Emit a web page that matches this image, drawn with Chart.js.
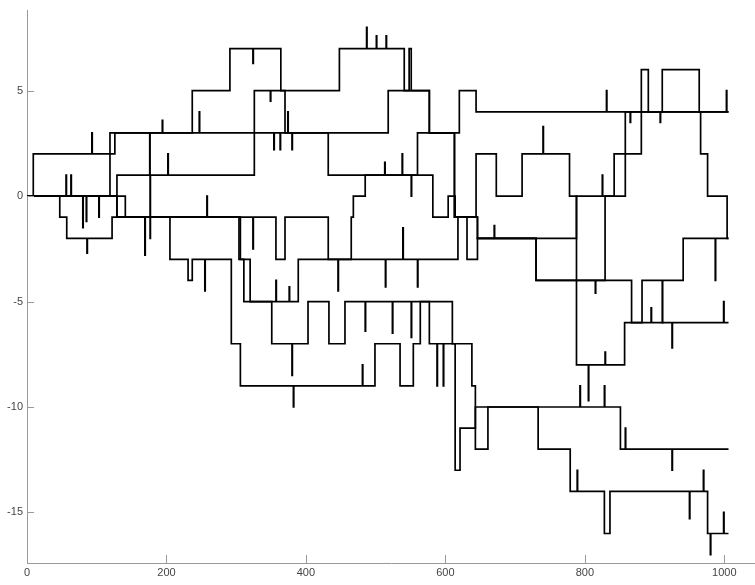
<!DOCTYPE html>
<html>
<head>
<meta charset="utf-8">
<script src="https://cdn.jsdelivr.net/npm/chart.js@4"></script>
<style>
  html, body { margin: 0; padding: 0; background: #fff; overflow: hidden; }
  #wrap { width: 755px; height: 585px; }
</style>
</head>
<body>
<div id="wrap"><canvas id="walkChart" width="755" height="585"></canvas></div>
<script>
// tick labels
const xTicks = [0, 200, 400, 600, 800, 1000];
const yTicks = [-15, -10, -5, 0, 5];

// each walk: [step, level] at the points where the level changes
const walkA = [[0,0],[9,2],[93,3],[93.6,2],[126,3],[194,3.6],[194.6,3],[237,5],[291,7],[324,6.3],[324.6,7],[364,5],[370,3],[374,4],[374.6,3],[380,2.2],[380.6,3],[518,5],[577,3],[620,5],[644,4],[831,5],[831.6,4],[865,3.5],[865.6,4],[911,6],[964,4],[966,2],[976,0],[1004,-2],[1006,-2]];
const walkB = [[0,0],[56,1],[56.6,0],[63,1],[63.6,0],[80,-1.5],[80.6,0],[129,1],[176,3],[176.5,-2],[177,1],[202,2],[202.6,1],[326,5],[349,4.5],[349.6,5],[448,7],[487,8],[487.6,7],[501,7.6],[501.6,7],[515,7.6],[515.6,7],[541,5],[548,7],[551,5],[577,3],[613,-1],[646,-2],[670,-1.4],[670.6,-2],[788,0],[825,1],[825.6,0],[842,2],[881,6],[891,4],[908,3.5],[908.6,4],[1003,5],[1003.6,4],[1006,4]];
const walkC = [[0,0],[47,-1],[57,-2],[86,-2.7],[86.6,-2],[122,-1],[169,-2.8],[169.6,-1],[258,0],[258.6,-1],[324,-2.5],[324.6,-1],[357,-3],[370,-1],[432,-3],[446,-4.5],[446.6,-3],[514,-4.3],[514.6,-3],[539,-1.5],[539.6,-3],[560,-4.3],[560.6,-3],[618,-1],[631,-3],[646,-2],[730,-4],[815,-4.6],[815.6,-4],[867,-6],[882,-4],[911,-6],[911.6,-4],[941,-2],[987,-4],[987.6,-2],[1006,-2]];
const walkD = [[0,0],[119,3],[247,4],[247.6,3],[354,2.2],[354.6,3],[363,2.2],[363.6,3],[432,1],[513,1.6],[513.6,1],[538,2],[538.6,1],[551,0],[551.6,1],[582,-1],[604,0],[614,-1],[644,2],[673,0],[710,2],[740,3.3],[740.6,2],[778,0],[788,-8],[805,-9.7],[805.6,-8],[829,-7.4],[829.6,-8],[857,-6],[895,-5.3],[895.6,-6],[925,-7.2],[925.6,-6],[999,-5],[999.6,-6],[1006,-6]];
const walkE = [[0,0],[129,-1],[205,-3],[231,-4],[237,-3],[255,-4.5],[255.6,-3],[293,-7],[306,-9],[382,-10],[382.6,-9],[481,-8],[481.6,-9],[499,-7],[535,-9],[554,-7],[564,-5],[577,-7],[588,-9],[588.6,-7],[597,-9],[597.6,-7],[638,-9],[643,-12],[661,-10],[793,-9],[793.6,-10],[828,-9],[828.6,-10],[851,-12],[858,-11],[858.6,-12],[925,-13],[925.6,-12],[1006,-12]];
const walkG = [[0,0],[85,-1.2],[85.6,0],[141,-1],[304,-3],[311,-5],[351,-7],[380,-8.5],[380.6,-7],[403,-5],[433,-7],[456,-5],[485,-6.4],[485.6,-5],[524,-6.5],[524.6,-5],[551,-6.7],[551.6,-5],[610,-7],[614,-13],[621,-11],[643,-10],[733,-12],[779,-14],[789,-13],[789.6,-14],[828,-16],[836,-14],[950,-15.3],[950.6,-14],[970,-13],[970.6,-14],[976,-16],[980,-17],[980.6,-16],[999,-15],[999.6,-16],[1006,-16]];
const walkH = [[0,0],[103,-1],[103.6,0],[129,-1],[306,-3],[320,-5],[357,-4],[357.6,-5],[376,-4.3],[376.6,-5],[389,-3],[465,-1],[468,0],[485,1],[560,3],[613,-1],[646,-2],[730,-4],[829,0],[858,4],[1006,4]];

const walks = [walkA, walkB, walkC, walkD, walkE, walkG, walkH];

// short inward tick marks like the original axes
const innerTicks = {
    id: 'innerTicks',
    afterDraw(chart) {
        const ctx = chart.ctx;
        const xs = chart.scales.x, ys = chart.scales.y;
        const area = chart.chartArea;
        ctx.save();
        ctx.strokeStyle = '#999';
        ctx.lineWidth = 1;
        ctx.beginPath();
        xTicks.forEach(v => {
            const px = Math.round(xs.getPixelForValue(v)) + 0.5;
            ctx.moveTo(px, area.bottom);
            ctx.lineTo(px, area.bottom - 8);
        });
        yTicks.forEach(v => {
            const py = Math.round(ys.getPixelForValue(v)) + 0.5;
            ctx.moveTo(area.left, py);
            ctx.lineTo(area.left + 7, py);
        });
        ctx.stroke();
        ctx.restore();
    }
};

const ctx = document.getElementById('walkChart').getContext('2d');
new Chart(ctx, {
    type: 'line',
    data: {
        datasets: walks.map(w => ({
            data: w.map(p => ({ x: p[0], y: p[1] })),
            borderColor: '#000',
            borderWidth: 1.7,
            pointRadius: 0,
            stepped: 'before',
            fill: false
        }))
    },
    options: {
        responsive: false,
        animation: false,
        devicePixelRatio: 1,
        layout: { padding: { top: 8, right: 0, bottom: 0, left: 0 } },
        plugins: { legend: { display: false }, tooltip: { enabled: false } },
        scales: {
            x: {
                type: 'linear',
                min: 0,
                max: 1044,
                afterBuildTicks: s => { s.ticks = xTicks.map(v => ({ value: v })); },
                afterFit: s => { s.height = 22; },
                grid: { display: false, drawTicks: false },
                border: { display: true, color: '#999', width: 1 },
                ticks: { color: '#444', padding: 3, font: { family: 'Liberation Sans', size: 11 }, callback: v => String(v) }
            },
            y: {
                type: 'linear',
                min: -17.4,
                max: 8.8,
                afterBuildTicks: s => { s.ticks = yTicks.map(v => ({ value: v })); },
                afterFit: s => { s.width = 27; },
                grid: { display: false, drawTicks: false },
                border: { display: true, color: '#999', width: 1 },
                ticks: { color: '#444', padding: 4, font: { family: 'Liberation Sans', size: 11 }, callback: v => String(v) }
            }
        }
    },
    plugins: [innerTicks]
});
</script>
</body>
</html>
